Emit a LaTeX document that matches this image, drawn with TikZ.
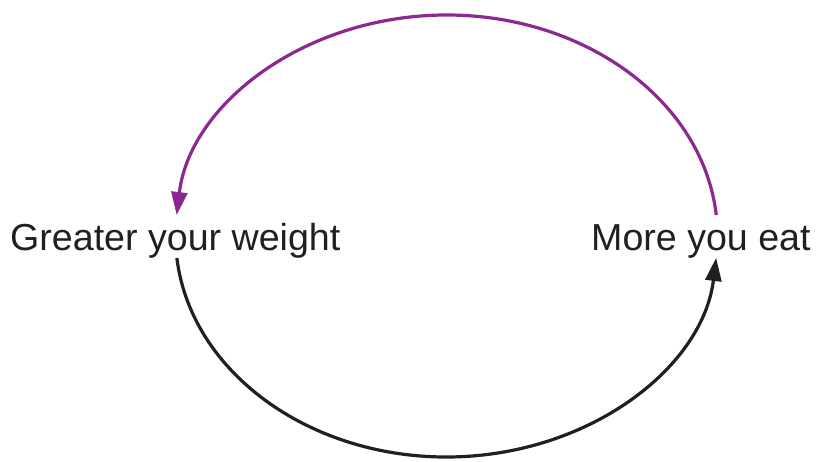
\documentclass[tikz,border=0pt]{standalone}
\usepackage{fontspec}
\setmainfont{Liberation Sans}
\usetikzlibrary{arrows.meta,calc}
\definecolor{loopPurple}{RGB}{142,40,145}
\definecolor{loopBlack}{RGB}{35,31,32}
\tikzset{
  lbl/.style={anchor=base west, inner sep=0pt, text=loopBlack, font=\fontsize{37.6}{44}\selectfont},
  looparrow/.style={line width=3.2pt, -{Triangle[length=23pt,width=16pt]}},
}
\begin{document}
\begin{tikzpicture}[x=1pt,y=1pt]
\useasboundingbox (0,0) rectangle (819,461);
\node[lbl] (weight) at (10,211) {Greater your weight};
\node[lbl] (eat) at (591,211) {More you eat};
\coordinate (ctr) at (446.5,225);
\coordinate (ps) at ($(ctr)+(5.45:271pt and 221pt)$);
\coordinate (bs) at ($(ctr)+(185.7:271pt and 221pt)$);
\draw[looparrow, draw=loopPurple] (ps) arc[start angle=5.45, end angle=174.55, x radius=271pt, y radius=221pt];
\draw[looparrow, draw=loopBlack] (bs) arc[start angle=185.7, end angle=354.3, x radius=271pt, y radius=221pt];
\end{tikzpicture}
\end{document}
